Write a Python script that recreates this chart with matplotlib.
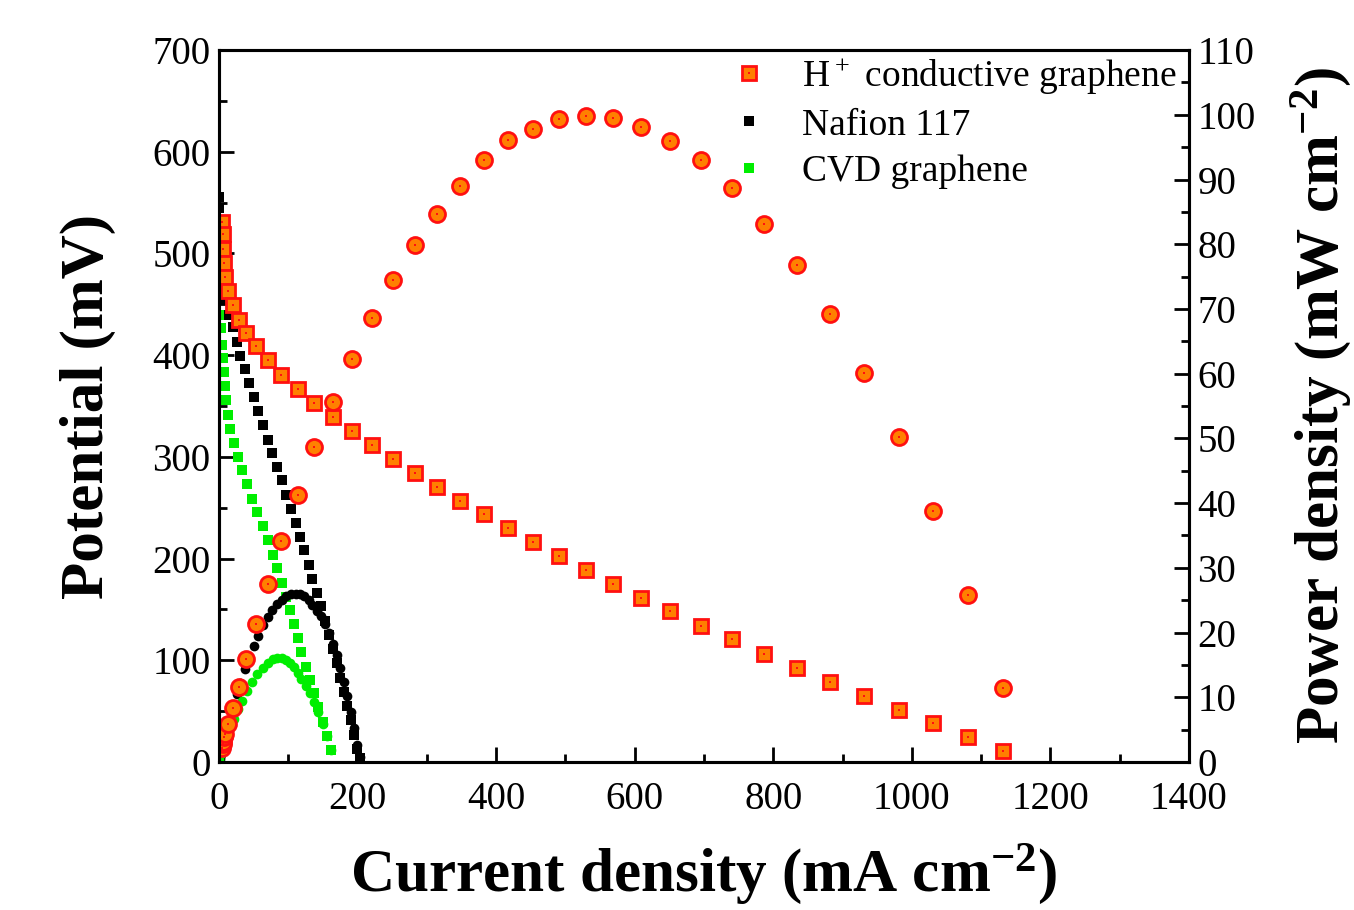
import numpy as np
import matplotlib.pyplot as plt
from matplotlib.ticker import MultipleLocator

plt.rcParams['font.family'] = ['Liberation Serif', 'DejaVu Serif']
plt.rcParams['mathtext.default'] = 'regular'

# H+ conductive graphene: current density (mA cm-2), potential (mV), power (mW cm-2)
h_current = [3.9, 5.3, 6.2, 7.6, 9.1, 13.4, 19.7, 28.4, 38.9, 53.3, 70.1, 89.3, 113.4,
             137.8, 164.2, 192.6, 221.4, 251, 282.3, 314, 347.6, 382.1, 416.7, 452.7,
             490.1, 529.6, 568.5, 609.2, 651, 695.7, 740.3, 786.4, 834, 881.5, 930.4,
             980.8, 1031.3, 1081.7, 1132]
h_potential = [531, 519, 504, 491, 477, 463, 449, 435, 422, 409, 395, 381, 367, 353, 339,
               325, 311.7, 297.6, 283.8, 270, 256.3, 243.8, 229.8, 216, 202.5, 188.5, 175,
               161, 148.5, 133.7, 121, 106, 92.4, 78.7, 64.9, 51, 38.3, 24.6, 10.8]
h_power = [2.1, 2.8, 3.1, 3.8, 4.3, 5.9, 8.3, 11.6, 15.9, 21.3, 27.5, 34.1, 41.2, 48.6,
           55.6, 62.3, 68.6, 74.5, 79.9, 84.7, 89.0, 93.0, 96.1, 97.8, 99.3, 99.8, 99.5,
           98.1, 95.9, 93.0, 88.7, 83.1, 76.8, 69.2, 60.1, 50.2, 38.8, 25.8, 11.4]

# Nafion 117
n_current = [0, 0.5, 1, 1.5, 2, 2.5, 3.5, 4.5, 5.3, 12.5, 19.7, 25.5, 30.7, 37.4, 43.2, 50,
             56.6, 63.8, 70.6, 77.3, 84.3, 90.7, 97.5, 104.1, 110.5, 117.1, 123.4, 129.6,
             135, 141.1, 147.3, 153, 159, 164.5, 170, 175, 180, 185, 190, 195, 199, 203]
n_potential = [556, 545, 530, 515, 500, 487, 474, 462, 454, 440, 428, 413, 399, 386, 373,
               359, 345, 331, 317, 304, 290, 277, 263, 249, 235, 221.5, 208, 194, 180, 166,
               153, 139, 125, 111, 97, 83, 69, 55, 41, 27, 13, 4]
n_power = [0, 0.27, 0.53, 0.77, 1.0, 1.22, 1.66, 2.08, 2.41, 5.5, 8.43, 10.5, 12.25, 14.4,
           16.1, 17.95, 19.5, 21.1, 22.4, 23.5, 24.45, 25.1, 25.6, 25.9, 26.0, 25.9, 25.7,
           25.1, 24.3, 23.4, 22.5, 21.3, 19.9, 18.3, 16.5, 14.5, 12.4, 10.2, 7.8, 5.3,
           2.6, 0.8]

# CVD graphene
c_current = [0.7, 2.9, 4.3, 5.3, 6.8, 8.6, 10.1, 13, 16.3, 21.2, 27.4, 33.1, 39.9, 47.5,
             55.2, 62.9, 70.1, 78.2, 84, 90.7, 96.5, 102.3, 108.5, 113.4, 119.1, 125.3,
             131.5, 137.3, 143.6, 150.2, 156.6, 161.3]
c_potential = [439.5, 426.7, 410, 397, 383, 369.7, 356, 341, 327, 314, 300, 287, 273, 259,
               245.5, 232, 218, 204, 190.4, 176.3, 162.5, 149.4, 135.7, 121.6, 107.9, 93.7,
               80.6, 67.5, 54.4, 39.6, 25.6, 11.8]
c_power = [0.31, 1.24, 1.76, 2.1, 2.6, 3.18, 3.6, 4.43, 5.33, 6.66, 8.22, 9.5, 10.9, 12.3,
           13.55, 14.6, 15.3, 15.95, 16.0, 16.0, 15.7, 15.3, 14.7, 13.8, 12.85, 11.7, 10.6,
           9.3, 7.8, 5.95, 4.0, 1.9]

orange = '#FF8000'
red = '#FF1010'
green = '#00EE00'

fig = plt.figure(figsize=(13.54, 9.10), dpi=100)
ax = fig.add_axes([0.1617, 0.1626, 0.7164, 0.7824])
ax2 = ax.twinx()

ax.plot(n_current, n_potential, 's', color='black', ms=6.5, mew=0, ls='none')
ax.plot(c_current, c_potential, 's', color=green, ms=6.5, mew=0, ls='none')
h_sq, = ax.plot(h_current, h_potential, 's', mfc=orange, mec=red, ms=9.5, mew=2, ls='none')
h_dot, = ax.plot(h_current, h_potential, 's', color=red, ms=1.6, mew=0, ls='none')

ax2.plot(n_current, n_power, 'o', color='black', ms=7, mew=0, ls='none')
ax2.plot(c_current, c_power, 'o', color=green, ms=7, mew=0, ls='none')
ax2.plot(h_current, h_power, 'o', mfc=orange, mec=red, ms=11.5, mew=2, ls='none')
ax2.plot(h_current, h_power, 's', color=red, ms=1.6, mew=0, ls='none')

ax.set_xlim(0, 1400)
ax.set_ylim(0, 700)
ax2.set_ylim(0, 110)

ax.xaxis.set_major_locator(MultipleLocator(200))
ax.xaxis.set_minor_locator(MultipleLocator(100))
ax.yaxis.set_major_locator(MultipleLocator(100))
ax.yaxis.set_minor_locator(MultipleLocator(50))
ax2.yaxis.set_major_locator(MultipleLocator(10))
ax2.yaxis.set_minor_locator(MultipleLocator(5))

for a in (ax, ax2):
    a.tick_params(which='major', direction='in', length=11, width=2, labelsize=28, pad=6)
    a.tick_params(which='minor', direction='in', length=6, width=2)
    for s in a.spines.values():
        s.set_linewidth(2.2)
ax.tick_params(top=False, right=False, which='both')
ax.tick_params(axis='x', pad=14)

ax.set_xlabel('Current density (mA cm$^{-2}$)', fontsize=44, fontweight='bold', labelpad=17)
ax.set_ylabel('Potential (mV)', fontsize=44, fontweight='bold', labelpad=26)
ax2.set_ylabel('Power density (mW cm$^{-2}$)', fontsize=44, fontweight='bold', labelpad=24)

# legend with squares only
k_sq, = ax.plot([], [], 's', color='black', ms=6.5, mew=0)
g_sq, = ax.plot([], [], 's', color=green, ms=6.5, mew=0)
leg = ax2.legend([(h_sq, h_dot), k_sq, g_sq],
                 ['H$^+$ conductive graphene', 'Nafion 117', 'CVD graphene'],
                 loc='upper left', bbox_to_anchor=(0.481, 1.029), frameon=False,
                 fontsize=27, handletextpad=0.4, labelspacing=0.33, borderpad=0.2)

fig.savefig('out.png', dpi=100)
